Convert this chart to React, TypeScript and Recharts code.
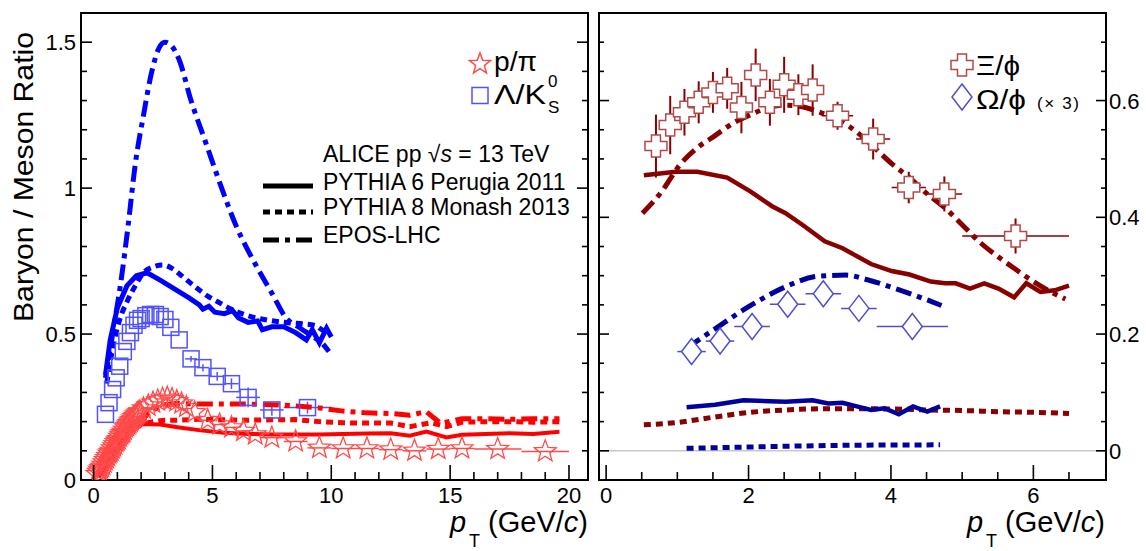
import React from "react";
import {
  ComposedChart,
  Line,
  Scatter,
  XAxis,
  YAxis,
  ErrorBar,
  ReferenceArea,
  ReferenceLine,
} from "recharts";

const FONT = '"Liberation Sans", Arial, Helvetica, sans-serif';

// colours
const BLUE = "#0000ff";
const RED = "#ff0000";
const STAR = "#ff4a4a";
const SQUARE = "#5252ff";
const MAROON = "#880000";
const NAVY = "#00009c";
const CROSS = "#b34848";
const DIAMOND = "#4f4fcc";

const DOT = "7 5";
const DASHDOT = "16 6 5 6";

// ---------- left panel: p/pi and Lambda/K0s ----------
const LEFT_X_TICKS = [0, 1, 2, 3, 4, 5, 6, 7, 8, 9, 10, 11, 12, 13, 14, 15, 16, 17, 18, 19, 20];
const LEFT_Y_TICKS = [0, 0.1, 0.2, 0.3, 0.4, 0.5, 0.6, 0.7, 0.8, 0.9, 1, 1.1, 1.2, 1.3, 1.4, 1.5];

// [pT, ratio, x half-width]
const pPiData = [
  [0.15, 0.02], [0.2, 0.028], [0.25, 0.035], [0.3, 0.04], [0.35, 0.045], [0.4, 0.052],
  [0.45, 0.06], [0.5, 0.068], [0.55, 0.075], [0.6, 0.082], [0.65, 0.09], [0.7, 0.095],
  [0.75, 0.1], [0.8, 0.108], [0.85, 0.115], [0.9, 0.122], [0.95, 0.13], [1.0, 0.135],
  [1.05, 0.14], [1.1, 0.148], [1.15, 0.155], [1.2, 0.16], [1.25, 0.165], [1.3, 0.172],
  [1.35, 0.18], [1.4, 0.185], [1.45, 0.19], [1.5, 0.195], [1.55, 0.2], [1.6, 0.205],
  [1.65, 0.21], [1.7, 0.215], [1.75, 0.22], [1.8, 0.224], [1.85, 0.228], [1.9, 0.232],
  [1.95, 0.235], [2.1, 0.245], [2.3, 0.255], [2.5, 0.265], [2.7, 0.272], [2.9, 0.278],
  [3.1, 0.282], [3.3, 0.277], [3.5, 0.27], [3.7, 0.262], [3.9, 0.25], [4.25, 0.232],
  [4.8, 0.205, 0.25], [5.3, 0.19, 0.25], [5.8, 0.18, 0.25], [6.3, 0.168, 0.25], [6.8, 0.156, 0.25],
  [7.5, 0.145, 0.5], [8.5, 0.132, 0.5], [9.5, 0.11, 0.5], [10.5, 0.108, 0.5], [11.5, 0.108, 0.5],
  [12.5, 0.104, 0.5], [13.5, 0.1, 0.5], [14.5, 0.106, 0.5], [15.5, 0.108, 0.5], [17, 0.106, 1],
  [19, 0.098, 1],
];

// [pT, ratio, x half-width, y error]
const lkData = [
  [0.5, 0.225], [0.65, 0.265], [0.8, 0.31], [0.95, 0.35], [1.1, 0.39], [1.25, 0.44],
  [1.4, 0.475], [1.55, 0.505], [1.7, 0.53], [1.85, 0.547], [2.0, 0.553], [2.2, 0.563],
  [2.4, 0.567], [2.6, 0.567], [2.8, 0.56], [3.0, 0.55], [3.25, 0.523], [3.6, 0.48],
  [4.1, 0.415, 0.25, 0.01], [4.6, 0.385, 0.25, 0.012], [5.2, 0.355, 0.3, 0.015],
  [5.8, 0.33, 0.3, 0.018], [6.5, 0.283, 0.5, 0.034], [7.5, 0.24, 0.5, 0.02], [9.0, 0.248, 1, 0.02],
];

const lkP6 = [
  [0.5, 0.36], [0.7, 0.48], [1.0, 0.59], [1.4, 0.665], [1.8, 0.7], [2.25, 0.71], [2.8, 0.685],
  [3.4, 0.655], [4.0, 0.625], [4.45, 0.6], [4.6, 0.585], [4.85, 0.595], [5.1, 0.575],
  [5.5, 0.57], [5.85, 0.58], [6.1, 0.555], [6.5, 0.54], [6.9, 0.545], [7.1, 0.515],
  [7.5, 0.525], [8.0, 0.525], [8.5, 0.505], [8.95, 0.48], [9.2, 0.515], [9.5, 0.47],
  [9.8, 0.52], [10.0, 0.49],
];
const lkP8 = [
  [0.55, 0.33], [0.8, 0.45], [1.1, 0.55], [1.4, 0.61], [1.75, 0.665], [2.1, 0.71], [2.5, 0.73],
  [2.9, 0.737], [3.3, 0.725], [3.7, 0.7], [4.3, 0.66], [4.8, 0.63], [5.3, 0.607], [5.8, 0.585],
  [6.3, 0.568], [6.8, 0.556], [7.3, 0.548], [7.8, 0.542], [8.3, 0.538], [8.8, 0.535],
  [9.3, 0.53], [9.6, 0.515], [9.9, 0.5],
];
const lkEpos = [
  [0.5, 0.35], [0.8, 0.5], [1.15, 0.68], [1.45, 0.87], [1.75, 1.08], [2.1, 1.25], [2.45, 1.4],
  [2.75, 1.48], [3.0, 1.5], [3.25, 1.49], [3.6, 1.44], [4.1, 1.3], [4.7, 1.16], [5.3, 1.02],
  [6.0, 0.87], [6.8, 0.74], [7.5, 0.64], [8.1, 0.555], [8.7, 0.52], [9.25, 0.49], [9.6, 0.47],
  [9.9, 0.44],
];

const pPiP6 = [
  [0.15, 0.01], [0.3, 0.06], [0.5, 0.1], [0.8, 0.14], [1.2, 0.168], [1.6, 0.183], [2.0, 0.192],
  [2.8, 0.19], [3.6, 0.18], [4.5, 0.17], [5.5, 0.162], [6.5, 0.158], [7.5, 0.156], [8.5, 0.156],
  [9.5, 0.156], [10.5, 0.158], [11.5, 0.159], [12.5, 0.16], [13.3, 0.152], [14.0, 0.166],
  [14.85, 0.146], [15.5, 0.155], [16.5, 0.158], [17.5, 0.16], [18.5, 0.158], [19.6, 0.165],
];
const pPiP8 = [
  [0.2, 0.02], [0.5, 0.06], [1.0, 0.12], [1.5, 0.165], [2.0, 0.19], [2.5, 0.2], [3.0, 0.205],
  [3.5, 0.205], [4.5, 0.208], [5.5, 0.206], [6.5, 0.205], [7.5, 0.206], [8.5, 0.207],
  [9.5, 0.2], [10.5, 0.196], [11.5, 0.195], [12.5, 0.195], [13.3, 0.183], [14.2, 0.196],
  [14.85, 0.183], [15.5, 0.198], [16.5, 0.2], [17.5, 0.2], [18.5, 0.198], [19.6, 0.2],
];
const pPiEpos = [
  [0.2, 0.01], [0.5, 0.04], [1.0, 0.1], [1.5, 0.16], [2.0, 0.205], [2.5, 0.24], [3.0, 0.258],
  [3.5, 0.262], [4.5, 0.26], [5.5, 0.26], [6.5, 0.26], [7.5, 0.258], [8.5, 0.254],
  [9.5, 0.247], [10.5, 0.236], [11.5, 0.23], [12.5, 0.228], [13.3, 0.222], [14.0, 0.234],
  [14.6, 0.194], [15.5, 0.21], [16.5, 0.21], [17.5, 0.208], [18.5, 0.21], [19.6, 0.21],
];

// ---------- right panel: Xi/phi and Omega/phi (x3) ----------
const RIGHT_X_TICKS = [0, 0.5, 1, 1.5, 2, 2.5, 3, 3.5, 4, 4.5, 5, 5.5, 6, 6.5];
const RIGHT_Y_TICKS = [0, 0.05, 0.1, 0.15, 0.2, 0.25, 0.3, 0.35, 0.4, 0.45, 0.5, 0.55, 0.6, 0.65, 0.7];

const xiData = [
  [0.7, 0.522, 0.1, 0.054], [0.9, 0.558, 0.1, 0.05], [1.1, 0.58, 0.1, 0.04], [1.3, 0.597, 0.1, 0.036],
  [1.5, 0.614, 0.1, 0.035], [1.7, 0.621, 0.1, 0.035], [1.9, 0.588, 0.1, 0.044], [2.1, 0.644, 0.1, 0.045],
  [2.3, 0.597, 0.1, 0.04], [2.5, 0.627, 0.1, 0.048], [2.7, 0.61, 0.1, 0.035], [2.9, 0.618, 0.1, 0.044],
  [3.25, 0.574, 0.22, 0.024], [3.75, 0.534, 0.24, 0.035], [4.25, 0.451, 0.24, 0.027],
  [4.75, 0.44, 0.25, 0.03], [5.75, 0.368, 0.75, 0.03],
];
const omegaData = [
  [1.2, 0.17, 0.2], [1.6, 0.188, 0.2], [2.05, 0.213, 0.25], [2.55, 0.251, 0.25],
  [3.05, 0.269, 0.25], [3.55, 0.244, 0.25], [4.3, 0.213, 0.5],
];

const xiP6 = [
  [0.53, 0.472], [0.98, 0.478], [1.28, 0.478], [1.7, 0.468], [2.03, 0.444], [2.33, 0.419],
  [2.52, 0.407], [2.77, 0.386], [3.07, 0.359], [3.32, 0.347], [3.72, 0.32], [4.01, 0.308],
  [4.26, 0.302], [4.56, 0.29], [4.76, 0.287], [4.91, 0.287], [5.11, 0.278], [5.31, 0.287],
  [5.51, 0.278], [5.73, 0.263], [5.9, 0.287], [6.1, 0.272], [6.3, 0.275], [6.5, 0.283],
];
const xiP8 = [
  [0.53, 0.0445], [1.03, 0.049], [1.53, 0.058], [2.03, 0.066], [2.52, 0.07], [3.02, 0.072],
  [3.52, 0.072], [4.01, 0.0716], [4.51, 0.07], [5.01, 0.069], [5.51, 0.067], [6.0, 0.066],
  [6.5, 0.064],
];
const xiEpos = [
  [0.51, 0.407], [0.78, 0.444], [1.03, 0.489], [1.28, 0.519], [1.53, 0.54], [1.78, 0.561],
  [2.03, 0.576], [2.28, 0.588], [2.52, 0.592], [2.77, 0.589], [3.02, 0.579], [3.27, 0.567],
  [3.52, 0.546], [3.77, 0.519], [4.01, 0.492], [4.26, 0.468], [4.51, 0.44], [4.76, 0.416],
  [5.01, 0.386], [5.26, 0.356], [5.51, 0.332], [5.75, 0.311], [6.0, 0.29], [6.25, 0.272],
  [6.45, 0.26],
];
const omP6 = [
  [1.13, 0.0746], [1.53, 0.079], [1.93, 0.0867], [2.52, 0.084], [2.9, 0.0867], [3.12, 0.081],
  [3.32, 0.0824], [3.52, 0.076], [3.72, 0.07], [3.91, 0.073], [4.11, 0.0626], [4.31, 0.076],
  [4.51, 0.067], [4.69, 0.076],
];
const omP8 = [[1.13, 0.0042], [2.28, 0.0072], [3.52, 0.0096], [4.69, 0.0102]];
const omEpos = [
  [1.13, 0.176], [1.53, 0.209], [2.03, 0.249], [2.52, 0.281], [2.97, 0.299], [3.37, 0.301],
  [3.67, 0.293], [4.06, 0.278], [4.41, 0.263], [4.71, 0.249],
];

const toPts = (rows: number[][]) =>
  rows.map(([x, y, ex = 0, ey = 0]) => ({ x, y, ex, ey }));

// plot geometry (both panels are 507 px wide)
const PLOT_W = 507;

// ---------- ticks (ROOT style, pointing inwards) ----------
function xTick(isMajor: (v: number) => boolean) {
  return (props: any) => {
    const { x, y, payload } = props;
    const v = payload.value;
    const major = isMajor(v);
    return (
      <g>
        <line x1={x} x2={x} y1={y} y2={y - (major ? 15 : 8)} stroke="#000" strokeWidth={1.6} />
        {major && (
          <text x={x} y={y + 23} textAnchor="middle" fontSize={22} fontFamily={FONT} fill="#000">
            {String(v)}
          </text>
        )}
      </g>
    );
  };
}

function leftYTick(props: any) {
  const { x, y, payload } = props;
  const v = payload.value;
  const major = Math.abs(v * 2 - Math.round(v * 2)) < 1e-9;
  const len = major ? 11 : 6;
  return (
    <g>
      <line x1={x} x2={x + len} y1={y} y2={y} stroke="#000" strokeWidth={1.6} />
      <line x1={x + PLOT_W} x2={x + PLOT_W - len} y1={y} y2={y} stroke="#000" strokeWidth={1.6} />
      {major && (
        <text x={x - 5} y={y + 8} textAnchor="end" fontSize={22} fontFamily={FONT} fill="#000">
          {String(v)}
        </text>
      )}
    </g>
  );
}

function rightYTick(props: any) {
  const { x, y, payload } = props;
  const v = payload.value;
  const major = Math.abs(v * 5 - Math.round(v * 5)) < 1e-9;
  const len = major ? 10 : 5;
  return (
    <g>
      <line x1={x} x2={x - len} y1={y} y2={y} stroke="#000" strokeWidth={1.6} />
      <line x1={x - PLOT_W} x2={x - PLOT_W + len} y1={y} y2={y} stroke="#000" strokeWidth={1.6} />
      {major && (
        <text x={x + 3} y={y + 8} textAnchor="start" fontSize={22} fontFamily={FONT} fill="#000">
          {String(v)}
        </text>
      )}
    </g>
  );
}

// ---------- marker shapes ----------
const starPts = (cx: number, cy: number, R: number) => {
  const out: string[] = [];
  for (let i = 0; i < 10; i++) {
    const r = i % 2 === 0 ? R : R * 0.42;
    const a = -Math.PI / 2 + (i * Math.PI) / 5;
    out.push(`${cx + r * Math.cos(a)},${cy + r * Math.sin(a)}`);
  }
  return out.join(" ");
};
const crossPts = (cx: number, cy: number, h: number, a: number) =>
  [
    [-a, -h], [a, -h], [a, -a], [h, -a], [h, a], [a, a], [a, h], [-a, h], [-a, a], [-h, a], [-h, -a], [-a, -a],
  ]
    .map(([dx, dy]) => `${cx + dx},${cy + dy}`)
    .join(" ");
const diamondPts = (cx: number, cy: number, w: number, h: number) =>
  `${cx},${cy - h} ${cx + w},${cy} ${cx},${cy + h} ${cx - w},${cy}`;

const StarShape = (p: any) => (
  <polygon points={starPts(p.cx, p.cy, 11.5)} fill="none" stroke={STAR} strokeWidth={1.3} />
);
const SquareShape = (p: any) => (
  <rect x={p.cx - 8} y={p.cy - 8} width={16} height={16} fill="none" stroke={SQUARE} strokeWidth={1.5} />
);
const CrossShape = (p: any) => (
  <polygon points={crossPts(p.cx, p.cy, 11, 4.5)} fill="#fff" stroke={CROSS} strokeWidth={1.5} />
);
const DiamondShape = (p: any) => (
  <polygon points={diamondPts(p.cx, p.cy, 10, 13)} fill="#fff" stroke={DIAMOND} strokeWidth={1.5} />
);

function LeftPanel() {
  return (
    <ComposedChart width={600} height={551} margin={{ top: 13, right: 12, bottom: 0, left: 0 }}>
      <XAxis
        type="number"
        dataKey="x"
        domain={[-0.53, 20.8]}
        allowDataOverflow
        ticks={LEFT_X_TICKS}
        interval={0}
        tick={xTick((v) => v % 5 === 0)}
        tickLine={false}
        axisLine={false}
        tickSize={0}
        tickMargin={0}
        height={71}
      />
      <YAxis
        type="number"
        domain={[0, 1.6]}
        allowDataOverflow
        ticks={LEFT_Y_TICKS}
        interval={0}
        tick={leftYTick}
        tickLine={false}
        axisLine={false}
        tickSize={0}
        tickMargin={0}
        width={81}
      />
      <Scatter data={toPts(lkData)} dataKey="y" shape={SquareShape} isAnimationActive={false}>
        <ErrorBar dataKey="ex" direction="x" width={0} stroke={SQUARE} strokeWidth={1.5} isAnimationActive={false} />
        <ErrorBar dataKey="ey" direction="y" width={0} stroke={SQUARE} strokeWidth={1.5} isAnimationActive={false} />
      </Scatter>
      <Scatter data={toPts(pPiData)} dataKey="y" shape={StarShape} isAnimationActive={false}>
        <ErrorBar dataKey="ex" direction="x" width={0} stroke={STAR} strokeWidth={1.5} isAnimationActive={false} />
      </Scatter>
      <Line data={toPts(lkEpos)} dataKey="y" type="monotone" stroke={BLUE} strokeWidth={5} strokeDasharray={DASHDOT} dot={false} isAnimationActive={false} />
      <Line data={toPts(lkP8)} dataKey="y" type="monotone" stroke={BLUE} strokeWidth={5} strokeDasharray={DOT} dot={false} isAnimationActive={false} />
      <Line data={toPts(lkP6)} dataKey="y" type="linear" stroke={BLUE} strokeWidth={5} dot={false} isAnimationActive={false} />
      <Line data={toPts(pPiEpos)} dataKey="y" type="linear" stroke={RED} strokeWidth={5} strokeDasharray={DASHDOT} dot={false} isAnimationActive={false} />
      <Line data={toPts(pPiP8)} dataKey="y" type="linear" stroke={RED} strokeWidth={5} strokeDasharray={DOT} dot={false} isAnimationActive={false} />
      <Line data={toPts(pPiP6)} dataKey="y" type="linear" stroke={RED} strokeWidth={4} dot={false} isAnimationActive={false} />
      <ReferenceArea x1={-0.53} x2={20.8} y1={0} y2={1.6} fill="none" stroke="#000" strokeWidth={2} />
    </ComposedChart>
  );
}

function RightPanel() {
  return (
    <ComposedChart width={556} height={551} margin={{ top: 13, right: 0, bottom: 0, left: 9 }}>
      <XAxis
        type="number"
        dataKey="x"
        domain={[-0.1, 7.02]}
        allowDataOverflow
        ticks={RIGHT_X_TICKS}
        interval={0}
        tick={xTick((v) => v % 2 === 0)}
        tickLine={false}
        axisLine={false}
        tickSize={0}
        tickMargin={0}
        height={71}
      />
      <YAxis
        type="number"
        orientation="right"
        domain={[-0.05, 0.75]}
        allowDataOverflow
        ticks={RIGHT_Y_TICKS}
        interval={0}
        tick={rightYTick}
        tickLine={false}
        axisLine={false}
        tickSize={0}
        tickMargin={0}
        width={40}
      />
      <ReferenceLine y={0} stroke="#c8c8c8" strokeWidth={1.5} />
      <Scatter data={toPts(xiData)} dataKey="y" shape={CrossShape} isAnimationActive={false}>
        <ErrorBar dataKey="ex" direction="x" width={0} stroke={MAROON} strokeWidth={1.5} isAnimationActive={false} />
        <ErrorBar dataKey="ey" direction="y" width={0} stroke={MAROON} strokeWidth={2} isAnimationActive={false} />
      </Scatter>
      <Scatter data={toPts(omegaData)} dataKey="y" shape={DiamondShape} isAnimationActive={false}>
        <ErrorBar dataKey="ex" direction="x" width={0} stroke={DIAMOND} strokeWidth={1.5} isAnimationActive={false} />
      </Scatter>
      <Line data={toPts(xiEpos)} dataKey="y" type="monotone" stroke={MAROON} strokeWidth={5} strokeDasharray={DASHDOT} dot={false} isAnimationActive={false} />
      <Line data={toPts(xiP8)} dataKey="y" type="monotone" stroke={MAROON} strokeWidth={5} strokeDasharray={DOT} dot={false} isAnimationActive={false} />
      <Line data={toPts(xiP6)} dataKey="y" type="linear" stroke={MAROON} strokeWidth={4.5} dot={false} isAnimationActive={false} />
      <Line data={toPts(omEpos)} dataKey="y" type="monotone" stroke={NAVY} strokeWidth={5} strokeDasharray={DASHDOT} dot={false} isAnimationActive={false} />
      <Line data={toPts(omP8)} dataKey="y" type="monotone" stroke={NAVY} strokeWidth={5} strokeDasharray={DOT} dot={false} isAnimationActive={false} />
      <Line data={toPts(omP6)} dataKey="y" type="linear" stroke={NAVY} strokeWidth={4.5} dot={false} isAnimationActive={false} />
      <ReferenceArea x1={-0.1} x2={7.02} y1={-0.05} y2={0.75} fill="none" stroke="#000" strokeWidth={2} />
    </ComposedChart>
  );
}

function PtTitle({ right }: { right: number }) {
  return (
    <text x={right} y={532} textAnchor="end" fontSize={29} fontFamily={FONT} fill="#000">
      <tspan fontStyle="italic">p</tspan>
      <tspan fontSize={18} dx={3} dy={15}>T</tspan>
      <tspan dy={-15}> (GeV/</tspan>
      <tspan fontStyle="italic">c</tspan>
      <tspan>)</tspan>
    </text>
  );
}

function Overlay() {
  return (
    <svg
      width={1146}
      height={551}
      style={{ position: "absolute", left: 0, top: 0, pointerEvents: "none" }}
      fontFamily={FONT}
    >
      {/* y axis title */}
      <text
        x={33}
        y={177}
        transform="rotate(-90 33 177)"
        textAnchor="middle"
        fontSize={28}
        textLength={290}
        lengthAdjust="spacingAndGlyphs"
        fill="#000"
      >
        Baryon / Meson Ratio
      </text>
      <PtTitle right={588} />
      <PtTitle right={1105} />

      {/* left legend: data */}
      <polygon points={starPts(480, 64, 11)} fill="none" stroke={STAR} strokeWidth={1.5} />
      <text x={494} y={71} fontSize={27} textLength={43} lengthAdjust="spacingAndGlyphs" fill="#000">
        p/π
      </text>
      <rect x={472} y={87.5} width={16} height={16} fill="none" stroke={SQUARE} strokeWidth={1.5} />
      <text x={494} y={104} fontSize={27} textLength={52} lengthAdjust="spacingAndGlyphs" fill="#000">
        Λ/K
      </text>
      <text x={548} y={87} fontSize={17} fill="#000">0</text>
      <text x={548} y={113} fontSize={17} fill="#000">S</text>

      {/* left legend: models */}
      <text x={323} y={162} fontSize={23} fill="#000">
        ALICE pp √<tspan fontStyle="italic">s</tspan> = 13 TeV
      </text>
      <line x1={263} x2={313} y1={186} y2={186} stroke="#000" strokeWidth={5} />
      <text x={323} y={190} fontSize={23} fill="#000">PYTHIA 6 Perugia 2011</text>
      <line x1={263} x2={313} y1={212} y2={212} stroke="#000" strokeWidth={5} strokeDasharray={DOT} />
      <text x={323} y={215} fontSize={23} fill="#000">PYTHIA 8 Monash 2013</text>
      <line x1={263} x2={313} y1={240} y2={240} stroke="#000" strokeWidth={5} strokeDasharray={DASHDOT} />
      <text x={323} y={243} fontSize={23} fill="#000">EPOS-LHC</text>

      {/* right legend */}
      <polygon points={crossPts(962, 65, 11, 4.5)} fill="none" stroke={CROSS} strokeWidth={1.5} />
      <text x={976} y={75} fontSize={27} textLength={44} lengthAdjust="spacingAndGlyphs" fill="#000">
        Ξ/ϕ
      </text>
      <polygon points={diamondPts(962, 97, 10, 13)} fill="none" stroke={DIAMOND} strokeWidth={1.5} />
      <text x={976} y={109} fontSize={27} textLength={50} lengthAdjust="spacingAndGlyphs" fill="#000">
        Ω/ϕ
      </text>
      <text x={1037} y={109} fontSize={17} textLength={42} lengthAdjust="spacing" fill="#000">(× 3)</text>
    </svg>
  );
}

export default function App() {
  return (
    <div style={{ position: "fixed", left: 0, top: 0, width: 1146, height: 551, background: "#fff" }}>
      <div style={{ position: "absolute", left: 0, top: 0 }}>
        <LeftPanel />
      </div>
      <div style={{ position: "absolute", left: 590, top: 0 }}>
        <RightPanel />
      </div>
      <Overlay />
    </div>
  );
}
